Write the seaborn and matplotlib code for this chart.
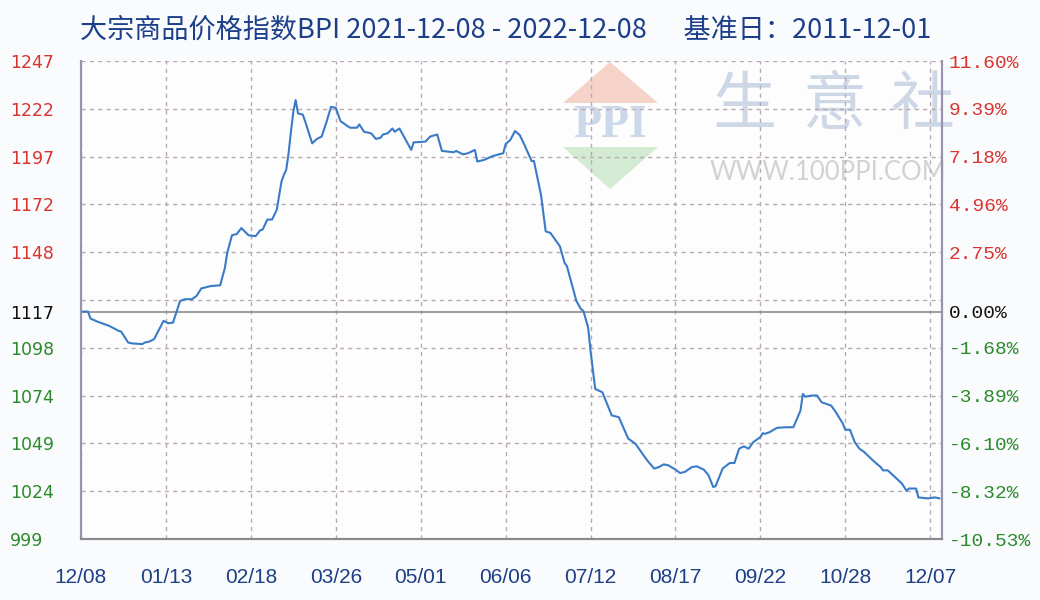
import numpy as np
import pandas as pd
import matplotlib
matplotlib.use("Agg")
import matplotlib.pyplot as plt
import matplotlib.patches as mpatches
import seaborn as sns

sns.set_theme(style="white")
plt.rcParams['font.family'] = ['Noto Sans CJK SC', 'DejaVu Sans']

TITLE = "大宗商品价格指数BPI 2021-12-08 - 2022-12-08      基准日：2011-12-01"
START_DATE = "2021-12-08"
BASE_VALUE = 1117

# days since 2021-12-08 and the BPI reading on that day
day_offsets = [0, 3, 4, 7, 12, 16, 17, 20, 22, 26, 27, 29, 31, 35, 37, 39, 42, 44, 47, 49,
               51, 55, 59, 61, 62, 64, 66, 68, 71, 74, 76, 77, 79, 81, 83, 85, 86, 87, 88, 89,
               90, 91, 92, 94, 95, 98, 100, 102, 104, 106, 108, 110, 112, 114, 117, 118, 120, 123, 125, 127,
               128, 130, 132, 133, 135, 140, 141, 146, 148, 151, 153, 158, 159, 162, 164, 167, 168, 171, 174, 177,
               179, 180, 182, 184, 186, 188, 191, 192, 195, 197, 199, 203, 205, 206, 210, 212, 213, 215, 216, 218,
               221, 225, 228, 232, 235, 240, 243, 245, 247, 249, 252, 254, 256, 259, 261, 264, 266, 268, 269, 272,
               275, 277, 279, 281, 283, 285, 288, 289, 290, 292, 295, 299, 302, 305, 306, 307, 310, 312, 314, 318,
               320, 323, 324, 326, 328, 330, 332, 336, 339, 340, 342, 345, 348, 350, 351, 354, 355, 359, 362, 364]
bpi_values = [1117.0, 1117.0, 1113.4, 1111.8, 1109.6, 1107.0, 1106.7, 1101.0, 1100.5, 1100.2,
              1101.0, 1101.5, 1102.8, 1112.2, 1111.0, 1111.3, 1122.5, 1123.4, 1123.4, 1125.1,
              1129.0, 1130.2, 1130.6, 1139.6, 1147.4, 1156.5, 1157.1, 1160.2, 1156.5, 1156.0,
              1159.1, 1159.4, 1164.6, 1164.6, 1169.7, 1184.3, 1187.7, 1190.3, 1198.9, 1210.0,
              1220.3, 1226.4, 1219.5, 1218.9, 1215.5, 1204.0, 1206.3, 1207.5, 1214.8, 1222.9,
              1222.4, 1215.5, 1213.8, 1212.1, 1212.1, 1213.8, 1210.0, 1209.2, 1206.3, 1206.9,
              1208.6, 1209.2, 1211.7, 1210.0, 1211.7, 1200.6, 1204.5, 1204.9, 1207.5, 1208.6,
              1200.1, 1199.4, 1200.1, 1198.3, 1198.9, 1200.6, 1194.6, 1195.5, 1197.2, 1198.3,
              1198.9, 1203.6, 1205.8, 1210.4, 1208.3, 1203.2, 1194.9, 1194.9, 1177.4, 1158.5,
              1157.7, 1150.8, 1142.2, 1140.5, 1122.5, 1118.2, 1117.3, 1108.7, 1096.7, 1077.0,
              1075.3, 1063.3, 1062.4, 1051.3, 1048.7, 1040.1, 1035.8, 1036.6, 1038.0, 1037.5,
              1035.3, 1033.5, 1034.1, 1036.6, 1037.0, 1035.3, 1032.4, 1026.3, 1026.7, 1035.8,
              1038.7, 1038.7, 1046.1, 1047.3, 1046.1, 1049.5, 1052.1, 1054.1, 1053.8, 1054.7,
              1056.9, 1057.2, 1057.2, 1065.8, 1074.4, 1073.0, 1073.6, 1073.6, 1070.1, 1068.4,
              1065.0, 1059.0, 1055.9, 1055.9, 1049.5, 1046.1, 1044.4, 1039.7, 1036.6, 1034.9,
              1034.9, 1031.5, 1028.1, 1024.3, 1025.5, 1025.5, 1020.9, 1020.4, 1020.9, 1020.4]

x_tick_labels = ["12/08", "01/13", "02/18", "03/26", "05/01", "06/06",
                 "07/12", "08/17", "09/22", "10/28", "12/07"]
left_labels = ["999", "1024", "1049", "1074", "1098", "1117",
               "1148", "1172", "1197", "1222", "1247"]
right_labels = ["-10.53%", "-8.32%", "-6.10%", "-3.89%", "-1.68%", "0.00%",
                "2.75%", "4.96%", "7.18%", "9.39%", "11.60%"]

Y_MIN, Y_MAX = 999.4, 1246.6
RED, GREEN, BLACK = "#d9342f", "#2b8a2b", "#111111"
LINE_BLUE = "#3a7bc8"
GRID_COLOR = "#b9a9b4"

start = pd.Timestamp(START_DATE)
df = pd.DataFrame({
    "date": start + pd.to_timedelta(day_offsets, unit="D"),
    "bpi": bpi_values,
})

W, H = 1040, 600
fig = plt.figure(figsize=(W / 100, H / 100), dpi=100)
fig.patch.set_facecolor("#f9fbfd")
ax = fig.add_axes([81 / W, 61 / H, 861 / W, 478 / H])
ax.set_facecolor("#fdfdfe")

sns.lineplot(data=df, x="date", y="bpi", ax=ax, color=LINE_BLUE, linewidth=1.5, zorder=3)

# axis limits and grid
ax.set_xlim(start, start + pd.Timedelta(days=365))
ax.set_ylim(Y_MIN, Y_MAX)
grid_vals = np.linspace(Y_MIN, Y_MAX, 11)
tick_dates = [start + pd.Timedelta(days=36 * i) for i in range(len(x_tick_labels))]
for g in grid_vals:
    ax.axhline(g, color=GRID_COLOR, lw=1, ls=(0, (3, 3)), zorder=1)
for d in tick_dates:
    ax.axvline(d, color=GRID_COLOR, lw=1, ls=(0, (3, 3)), zorder=1)
ax.axhline(BASE_VALUE, color="#8c8c8c", lw=1.2, zorder=2)

# y tick positions: regular grid, middle one replaced by the base value
ytick_pos = list(grid_vals)
ytick_pos[5] = BASE_VALUE

def label_color(v):
    if abs(v - BASE_VALUE) < 0.5:
        return BLACK
    return RED if v > BASE_VALUE else GREEN

ax.set_yticks(ytick_pos)
ax.set_yticklabels(left_labels, fontsize=12.5, family="DejaVu Sans")
ax.tick_params(axis="y", length=0, pad=51)
for lbl, v in zip(ax.get_yticklabels(), ytick_pos):
    lbl.set_ha("left")
    lbl.set_color(label_color(v))

ax.set_xticks(tick_dates)
ax.set_xticklabels(x_tick_labels, fontsize=15, family="Liberation Sans", color="#1d3f86")
ax.tick_params(axis="x", length=0, pad=21)
ax.set_xlabel("")
ax.set_ylabel("")

ax2 = ax.twinx()
ax2.set_ylim(Y_MIN, Y_MAX)
ax2.set_yticks(ytick_pos)
ax2.set_yticklabels(right_labels, fontsize=14, family="Liberation Mono")
ax2.tick_params(axis="y", length=0, pad=5)
for lbl, v in zip(ax2.get_yticklabels(), ytick_pos):
    lbl.set_color(label_color(v))

for a in (ax, ax2):
    a.spines["top"].set_visible(False)
    a.spines["left"].set_color("#9994ad")
    a.spines["right"].set_color("#9994ad")
    a.spines["bottom"].set_color("#8a8a8a")
    for s in ("left", "right", "bottom"):
        a.spines[s].set_linewidth(1.5)

# watermark (behind the grid)
def fx(x):
    return x / W

def fy(y):
    return 1 - y / H

up = mpatches.Polygon([(fx(610), fy(62)), (fx(563), fy(103)), (fx(658), fy(103))],
                      closed=True, transform=fig.transFigure, facecolor="#f6d3c8",
                      edgecolor="none", zorder=0.2, clip_on=False)
down = mpatches.Polygon([(fx(563), fy(147)), (fx(658), fy(147)), (fx(610), fy(189))],
                        closed=True, transform=fig.transFigure, facecolor="#d3ead3",
                        edgecolor="none", zorder=0.2, clip_on=False)
ax.add_patch(up)
ax.add_patch(down)
ax.text(fx(610), fy(126), "PPI", transform=fig.transFigure, ha="center", va="center",
        fontsize=33, family="Liberation Serif", fontweight="bold", color="#cbd8ea", zorder=0.2)
for ch, cx in zip("生意社", (744, 834, 922)):
    ax.text(fx(cx), fy(106), ch, transform=fig.transFigure, ha="center", va="center",
            fontsize=46, color="#cdd7e6", zorder=0.2, clip_on=False)
ax.text(fx(828), fy(172), "WWW.100PPI.COM", transform=fig.transFigure, ha="center",
        va="center", fontsize=18.5, family="Lato", color="#d2d2d2",
        zorder=0.2, clip_on=False)

fig.text(fx(80), fy(30), TITLE, ha="left", va="center", fontsize=19.5, color="#1d3f8a")

fig.savefig("out.png", dpi=100, facecolor=fig.get_facecolor())
